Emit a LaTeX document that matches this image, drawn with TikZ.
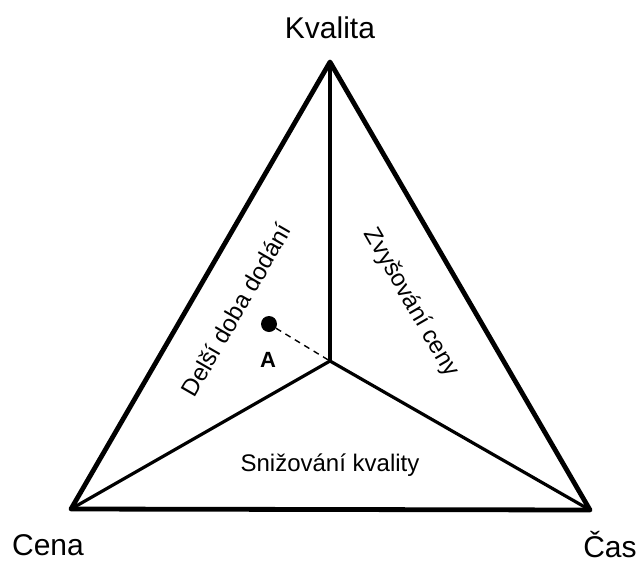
\documentclass[tikz,border=0pt]{standalone}
\usepackage{fontspec}
\setmainfont{Liberation Sans}
\begin{document}
\begin{tikzpicture}[x=1pt,y=-1pt,
  outer/.style={line width=4.8pt,line join=round,line cap=round},
  inner/.style={line width=3.2pt,line cap=round},
  big/.style={font=\fontsize{30}{34}\selectfont,anchor=base},
  mid/.style={font=\fontsize{24}{28}\selectfont}]
\useasboundingbox (0,0) rectangle (643,560);
\coordinate (T) at (330,62);
\coordinate (L) at (71,509);
\coordinate (R) at (590,510);
\coordinate (C) at (330,361);
\draw[outer] (T) -- (L) -- (R) -- cycle;
\draw[inner] (C) -- (T);
\draw[inner] (C) -- (L);
\draw[inner] (C) -- (R);
\node[big] (kv) at (330,38) {Kvalita};
\node[big] (ce) at (48,555) {Cena};
\node[big] (ca) at (610,557) {Čas};
\node[mid,rotate=60] (de) at (236,310) {Delší doba dodání};
\node[mid,rotate=-60] (zv) at (411,303) {Zvyšování ceny};
\node[mid] (sn) at (330,465) {Snižování kvality};
\node[circle,fill=black,inner sep=0pt,minimum size=16pt] (A) at (269,324) {};
\node[font=\fontsize{22}{26}\selectfont\bfseries] (Alab) at (268,360) {A};
\draw[dashed,line width=1.4pt,dash pattern=on 6pt off 5pt] (A) -- (C);
\end{tikzpicture}
\end{document}
